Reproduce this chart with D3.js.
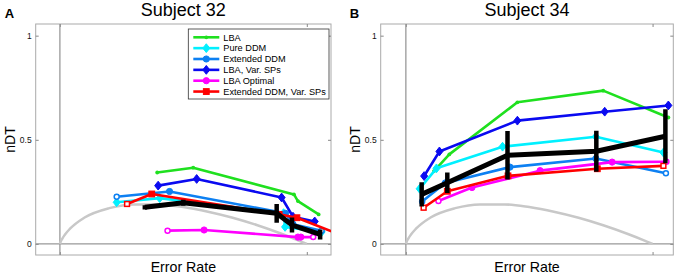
<!DOCTYPE html>
<html><head><meta charset="utf-8">
<script src="https://cdn.jsdelivr.net/npm/d3@7"></script>
<style>
html,body{margin:0;padding:0;background:#fff;}
svg{display:block;font-family:"Liberation Sans",Arial,sans-serif;}
</style></head>
<body><svg id="chart" width="680" height="274"></svg>
<script>
// ---------- data ----------
const seriesNames = ["LBA","Pure DDM","Extended DDM","LBA, Var. SPs","LBA Optimal","Extended DDM, Var. SPs"];
const seriesColors = ["#1fe01f","#00f0ff","#0d80f2","#0a0af0","#ff00ff","#ff0000"];
const seriesMarkers = ["dot","diamond","circle","diamond","circle","square"];
const yTicks = [0, 0.5, 1];
const yTickLabels = ["0", "0.5", "1"];
const xTicks = [0, 0.5];

// optimal performance curve (error rate, nDT)
const optER  = [0, 0.001, 0.005, 0.01, 0.02, 0.05, 0.1, 0.15, 0.2, 0.25, 0.3, 0.35, 0.4, 0.45, 0.48, 0.5];
const optNDT = [0, 0.007, 0.026, 0.044, 0.072, 0.127, 0.172, 0.190, 0.190, 0.177, 0.155, 0.126, 0.090, 0.048, 0.020, 0];

// Subject 32 : [error rate, nDT]
const s32_LBA      = [[0.197,0.343],[0.270,0.366],[0.474,0.238],[0.482,0.206],[0.524,0.142]];
const s32_PureDDM  = [[0.115,0.200],[0.202,0.220],[0.453,0.148],[0.456,0.082],[0.530,0.058]];
const s32_ExtDDM   = [[0.115,0.227],[0.222,0.252],[0.457,0.147],[0.472,0.095],[0.530,0.063]];
const s32_LBAVar   = [[0.199,0.280],[0.277,0.312],[0.449,0.223],[0.472,0.131],[0.516,0.108]];
const s32_LBAOpt   = [[0.218,0.064],[0.292,0.067],[0.482,0.033],[0.488,0.033],[0.513,0.033]];
const s32_ExtVar   = [[0.136,0.192],[0.186,0.240],[0.444,0.142],[0.480,0.126],[0.578,0.034]];
const s32_DataER   = [0.172, 0.250, 0.439, 0.470, 0.527];
const s32_DataNDT  = [0.176, 0.198, 0.147, 0.091, 0.046];
const s32_DataErr  = [0.010, 0.014, 0.045, 0.036, 0.024];

// Subject 34
const s34_LBA      = [[0.057,0.350],[0.088,0.430],[0.226,0.680],[0.400,0.736],[0.532,0.607]];
const s34_PureDDM  = [[0.028,0.265],[0.062,0.363],[0.196,0.467],[0.385,0.515],[0.522,0.439]];
const s34_ExtDDM   = [[0.033,0.204],[0.080,0.293],[0.211,0.369],[0.385,0.410],[0.527,0.339]];
const s34_LBAVar   = [[0.037,0.326],[0.068,0.444],[0.226,0.592],[0.403,0.635],[0.532,0.665]];
const s34_LBAOpt   = [[0.066,0.206],[0.134,0.271],[0.272,0.352],[0.418,0.393],[0.528,0.395]];
const s34_ExtVar   = [[0.036,0.174],[0.084,0.253],[0.207,0.327],[0.388,0.361],[0.522,0.375]];
const s34_DataER   = [0.032, 0.084, 0.206, 0.386, 0.526];
const s34_DataNDT  = [0.238, 0.294, 0.426, 0.445, 0.517];
const s34_DataErr  = [0.058, 0.049, 0.116, 0.098, 0.130];

// ---------- drawing ----------
const svg = d3.select("#chart");
const panels = [
  {letter:"A", title:"Subject 32", left:35.7, right:331, xDom:[-0.049,0.549], legend:true,
   series:[s32_LBA,s32_PureDDM,s32_ExtDDM,s32_LBAVar,s32_LBAOpt,s32_ExtVar],
   dER:s32_DataER, dNDT:s32_DataNDT, dErr:s32_DataErr},
  {letter:"B", title:"Subject 34", left:380.7, right:673.3, xDom:[-0.051,0.542], legend:false,
   series:[s34_LBA,s34_PureDDM,s34_ExtDDM,s34_LBAVar,s34_LBAOpt,s34_ExtVar],
   dER:s34_DataER, dNDT:s34_DataNDT, dErr:s34_DataErr}
];
const plotTop = 24, plotBottom = 255;

function drawMarker(g, type, x, y, color, hollow) {
  const fill = hollow ? "#fff" : color;
  if (type === "dot") {
    g.append("circle").attr("cx",x).attr("cy",y).attr("r",1.9).attr("fill",color);
  } else if (type === "circle") {
    g.append("circle").attr("cx",x).attr("cy",y).attr("r",hollow?2.5:3.1).attr("fill",fill)
      .attr("stroke",color).attr("stroke-width",hollow?1.5:1);
  } else if (type === "square") {
    const s = hollow?2.4:2.9;
    g.append("rect").attr("x",x-s).attr("y",y-s).attr("width",2*s).attr("height",2*s)
      .attr("fill",fill).attr("stroke",color).attr("stroke-width",hollow?1.5:1);
  } else if (type === "diamond") {
    const w = 3.5, h = 4.4;
    g.append("path").attr("d",`M${x},${y-h}L${x+w},${y}L${x},${y+h}L${x-w},${y}Z`)
      .attr("fill",fill).attr("stroke",color).attr("stroke-width",1);
  }
}

panels.forEach((p, pi) => {
  const x = d3.scaleLinear().domain(p.xDom).range([p.left, p.right]);
  const y = d3.scaleLinear().domain([-0.053, 1.056]).range([plotBottom, plotTop]);
  const g = svg.append("g");
  const clipId = "clip"+pi;
  svg.append("clipPath").attr("id",clipId).append("rect")
    .attr("x",p.left).attr("y",plotTop).attr("width",p.right-p.left).attr("height",plotBottom-plotTop);

  g.append("rect").attr("x",p.left).attr("y",plotTop).attr("width",p.right-p.left).attr("height",plotBottom-plotTop)
    .attr("fill","#fff").attr("stroke","#aaa").attr("stroke-width",1);

  const ya = d3.axisLeft(y).tickValues(yTicks).tickFormat((d,i)=>yTickLabels[i]).tickSizeInner(-3).tickSizeOuter(0).tickPadding(4);
  const yag = g.append("g").attr("transform",`translate(${p.left},0)`).call(ya);
  yag.select(".domain").remove();
  yag.selectAll("line").attr("stroke","#888");
  yag.selectAll("text").attr("font-size","8.5px").attr("font-family","Liberation Sans, Arial, sans-serif").attr("fill","#111");
  const yar = d3.axisRight(y).tickValues(yTicks).tickFormat("").tickSizeInner(-3).tickSizeOuter(0);
  const yarg = g.append("g").attr("transform",`translate(${p.right},0)`).call(yar);
  yarg.select(".domain").remove(); yarg.selectAll("line").attr("stroke","#888");
  const xb = d3.axisBottom(x).tickValues(xTicks).tickFormat("").tickSizeInner(-3).tickSizeOuter(0);
  const xbg = g.append("g").attr("transform",`translate(0,${plotBottom})`).call(xb);
  xbg.select(".domain").remove(); xbg.selectAll("line").attr("stroke","#888");
  const xt = d3.axisTop(x).tickValues(xTicks).tickFormat("").tickSizeInner(-3).tickSizeOuter(0);
  const xtg = g.append("g").attr("transform",`translate(0,${plotTop})`).call(xt);
  xtg.select(".domain").remove(); xtg.selectAll("line").attr("stroke","#888");

  g.append("line").attr("x1",p.left).attr("x2",p.right).attr("y1",y(0)).attr("y2",y(0))
    .attr("stroke","#999").attr("stroke-width",1.3);
  g.append("line").attr("x1",x(0)).attr("x2",x(0)).attr("y1",plotTop).attr("y2",plotBottom)
    .attr("stroke","#999").attr("stroke-width",1.3);

  const plot = g.append("g").attr("clip-path",`url(#${clipId})`);
  const optPts = optER.map((e,i)=>[e,optNDT[i]]);
  plot.append("path").datum(optPts)
    .attr("d", d3.line().x(d=>x(d[0])).y(d=>y(d[1])).curve(d3.curveMonotoneX))
    .attr("fill","none").attr("stroke","#c8c8c8").attr("stroke-width",2.5);

  const line = d3.line().x(d=>x(d[0])).y(d=>y(d[1]));
  p.series.forEach((s, si) => {
    plot.append("path").datum(s).attr("d", line).attr("fill","none")
      .attr("stroke", seriesColors[si]).attr("stroke-width", 2.6).attr("stroke-linejoin","round");
    s.forEach((d, di) => {
      const hollow = seriesMarkers[si] !== "diamond" && seriesMarkers[si] !== "dot" && (di === 0 || di === s.length-1);
      drawMarker(plot, seriesMarkers[si], x(d[0]), y(d[1]), seriesColors[si], hollow);
    });
  });

  const dPts = p.dER.map((e,i)=>[e,p.dNDT[i],p.dErr[i]]);
  plot.append("path").datum(dPts).attr("d", line).attr("fill","none")
    .attr("stroke","#000").attr("stroke-width",5).attr("stroke-linejoin","round");
  plot.selectAll(".eb").data(dPts).enter().append("line")
    .attr("x1",d=>x(d[0])).attr("x2",d=>x(d[0]))
    .attr("y1",d=>y(d[1]-d[2])).attr("y2",d=>y(d[1]+d[2]))
    .attr("stroke","#000").attr("stroke-width",4.5);

  const cx = (p.left + p.right)/2;
  svg.append("text").attr("x",cx).attr("y",16).attr("text-anchor","middle")
    .attr("font-size","18px").attr("fill","#000").text(p.title);
  svg.append("text").attr("x",cx).attr("y",272).attr("text-anchor","middle")
    .attr("font-size","14.2px").attr("fill","#000").text("Error Rate");
  svg.append("text").attr("transform",`translate(${p.left-20.5},${(plotTop+plotBottom)/2}) rotate(-90)`)
    .attr("text-anchor","middle").attr("font-size","14px").attr("fill","#000").text("nDT");
  svg.append("text").attr("x",p.left-31).attr("y",17.5).attr("font-size","13px")
    .attr("font-weight","bold").attr("fill","#000").text(p.letter);

  if (p.legend) {
    const lx = 188.3, ly = 29, lw = 140.7, lh = 70;
    const lg = svg.append("g");
    lg.append("rect").attr("x",lx).attr("y",ly).attr("width",lw).attr("height",lh)
      .attr("fill","#fff").attr("stroke","#333").attr("stroke-width",0.8);
    seriesNames.forEach((n, i) => {
      const yy = ly + 8.3 + i*10.85;
      lg.append("line").attr("x1",lx+5).attr("x2",lx+31).attr("y1",yy).attr("y2",yy)
        .attr("stroke",seriesColors[i]).attr("stroke-width",2.6);
      drawMarker(lg, seriesMarkers[i], lx+18, yy, seriesColors[i], false);
      lg.append("text").attr("x",lx+35).attr("y",yy+3.3).attr("font-size","9.2px")
        .attr("fill","#000").text(n);
    });
  }
});
</script></body></html>
